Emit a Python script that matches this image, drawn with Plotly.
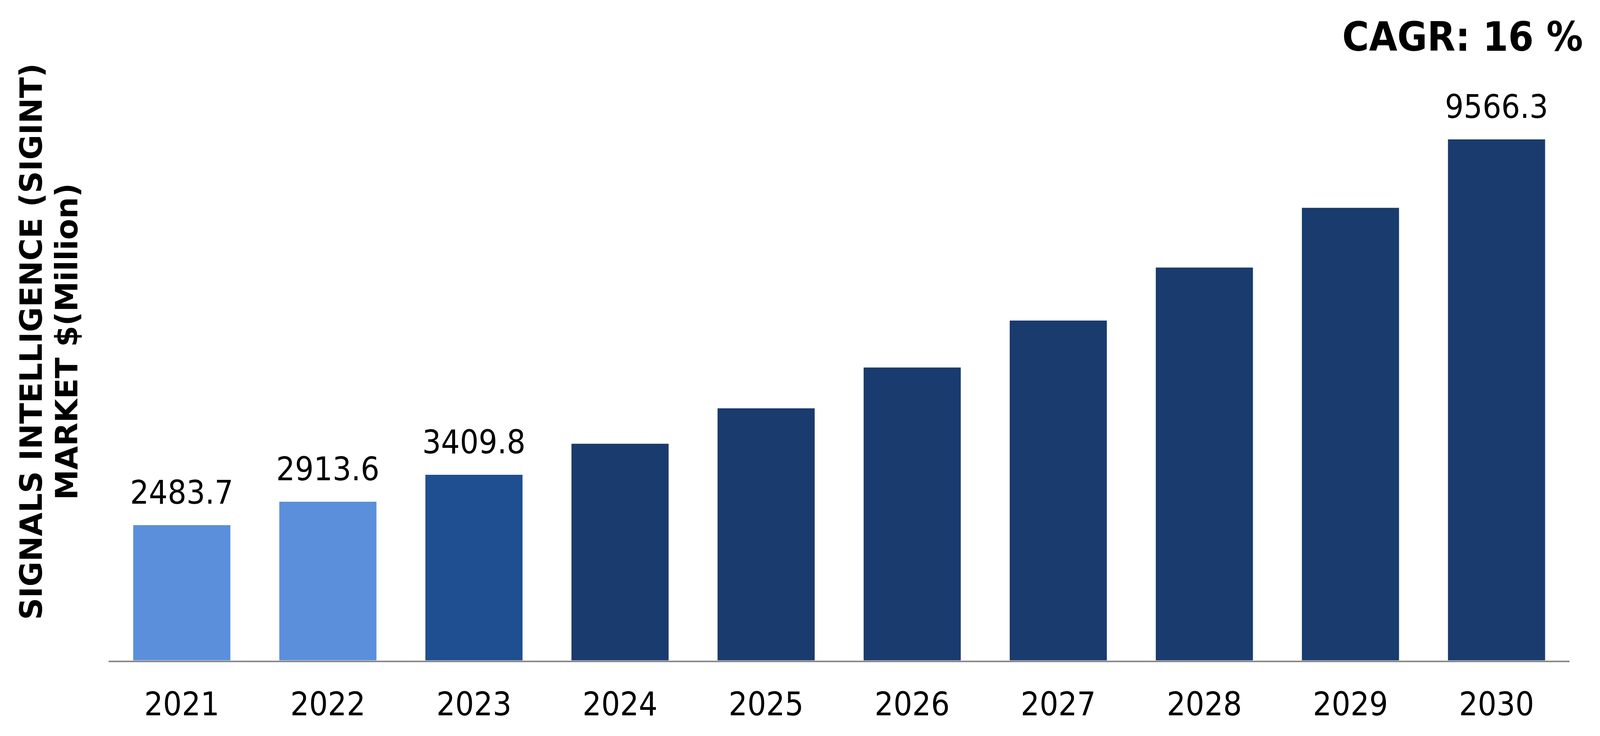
import plotly.graph_objects as go

years = ["2021", "2022", "2023", "2024", "2025", "2026", "2027", "2028", "2029", "2030"]
values = [2483.7, 2913.6, 3409.8, 3978, 4629, 5378, 6240, 7213, 8311, 9566.3]
bar_colors = ["#5B8FDB", "#5B8FDB", "#1F4F91"] + ["#193B6E"] * 7
label_years = ["2021", "2022", "2023", "2030"]
cagr_text = "CAGR: 16 %"
ytitle_lines = ["SIGNALS INTELLIGENCE (SIGINT)", "MARKET $(Million)"]

# reference geometry (pixels in a 6654 x 1885 picture), expressed as fractions of the page
W, H = 6654, 1885
x_dom = [441 / W, 6540 / W]
y_dom = [187 / H, 1785 / H]
ymax = (1785 - 187) / (1346 / 9566.3)

fig = go.Figure()
fig.add_trace(go.Bar(x=years, y=values, marker=dict(color=bar_colors, line=dict(width=0)),
                     hoverinfo="x+y"))

num_font = dict(family="DejaVu Sans Condensed, DejaVu Sans, sans-serif", size=84, color="#000000")

annotations = []
for i, (yr, v) in enumerate(zip(years, values)):
    if yr in label_years:
        annotations.append(dict(x=i, y=v, xref="x", yref="y", text=f"{v:.1f}",
                                showarrow=False, yanchor="middle", xanchor="center",
                                yshift=84, font=num_font))

annotations.append(dict(x=1, y=1, xref="paper", yref="paper", xshift=-34, yshift=-86,
                        text=f"<b>{cagr_text}</b>", showarrow=False, xanchor="right", yanchor="middle",
                        font=dict(family="DejaVu Sans Condensed, DejaVu Sans, sans-serif", size=104,
                                  color="#000000")))

for xpx, line in zip([72, 163], ytitle_lines):
    annotations.append(dict(x=0, y=(H - 875) / H, xref="paper", yref="paper", xshift=xpx,
                            text=f"<b>{line}</b>", showarrow=False, textangle=-90,
                            xanchor="center", yanchor="middle",
                            font=dict(family="DejaVu Sans, Verdana, sans-serif", size=78, color="#000000")))

fig.update_layout(
    template="none",
    autosize=True,
    margin=dict(l=0, r=0, t=0, b=0, pad=0),
    paper_bgcolor="white", plot_bgcolor="white",
    bargap=0.335,
    showlegend=False,
    annotations=annotations,
    xaxis=dict(type="category", domain=x_dom, range=[-0.5, len(years) - 0.5], showline=True,
               linecolor="#898989", linewidth=4, automargin=False,
               ticks="outside", ticklen=36, tickcolor="rgba(0,0,0,0)",
               tickfont=num_font, showgrid=False, zeroline=False),
    yaxis=dict(domain=y_dom, range=[0, ymax], showticklabels=False, showgrid=False, zeroline=False,
               showline=False, ticks="", automargin=False),
)

fig.write_html("out.html", default_width="100%", default_height="calc(100vh - 16px)",
               config={"responsive": True})
